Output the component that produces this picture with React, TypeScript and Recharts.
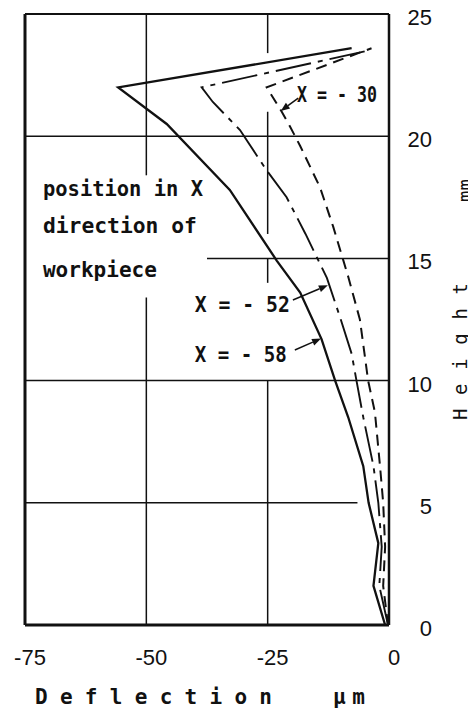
import React from "react";
import { ScatterChart, Scatter, XAxis, YAxis, ReferenceLine } from "recharts";

// heights (mm) and deflections (µm) along each curve, bottom to top
const HEIGHT_58 = [0, 1.6, 3.35, 5, 6.5, 8.5, 10, 11.7, 13.6, 14.9, 17.8, 20.5, 22.0, 23.6];
const DEFL_58 = [-0.8, -3.2, -2.2, -4.2, -5.3, -8.4, -11.1, -13.9, -18.3, -23.1, -32.8, -45.8, -55.8, -7.7];

const HEIGHT_52 = [0, 1.6, 3.2, 5, 6.5, 8.5, 10, 11.1, 12.6, 14.2, 16, 17.5, 18.6, 20.25, 21.4, 22.0, 23.5];
const DEFL_52 = [-0.2, -2.0, -1.5, -2.2, -3.2, -5.3, -6.7, -7.7, -10.1, -12.8, -17.2, -21.1, -25.2, -30.7, -36.3, -38.6, -4.3];

const HEIGHT_30 = [0, 1.6, 3.2, 5, 6.5, 8.7, 10, 12.5, 14.25, 16.3, 17.9, 19.6, 20.4, 21.0, 22.0, 23.6];
const DEFL_30 = [-0.2, -1.2, -0.8, -1.2, -1.85, -2.9, -4.3, -6.0, -8.4, -11.5, -14.2, -18.3, -20.4, -22.1, -25.2, -3.6];

const X_TICKS = [-75, -50, -25, 0];
const Y_TICKS = [0, 5, 10, 15, 20, 25];

// broken grid segments (the grid is left open around the notes)
const GRID_V = [
  { x: -50, from: 0, to: 13.4 },
  { x: -50, from: 18.4, to: 25 },
  { x: -25, from: 0, to: 10 },
  { x: -25, from: 14, to: 15 },
  { x: -25, from: 16, to: 21 },
  { x: -25, from: 23.4, to: 25 },
];
const GRID_H = [
  { y: 20, from: -75, to: 0 },
  { y: 15, from: -37.5, to: 0 },
  { y: 10, from: -75, to: 0 },
  { y: 5, from: -75, to: -6.5 },
];

const NOTES = [
  { text: "position in X", d: -71.3, h: 17.55, len: 160 },
  { text: "direction of", d: -71.3, h: 16.04, len: 154 },
  { text: "workpiece", d: -71.3, h: 14.24, len: 114 },
  { text: "X = - 30", d: -18.95, h: 21.4, len: 80 },
  { text: "X = - 52", d: -40.0, h: 12.8, len: 95 },
  { text: "X = - 58", d: -40.0, h: 10.76, len: 92 },
];

const ARROWS = [
  { from: { x: -18.7, y: 21.56 }, to: { x: -22.3, y: 21.03 } },
  { from: { x: -19.8, y: 13.3 }, to: { x: -12.6, y: 13.9 } },
  { from: { x: -19.4, y: 11.25 }, to: { x: -14.0, y: 11.72 } },
];

const toPoints = (hs: number[], ds: number[]) => hs.map((h, i) => ({ d: ds[i], h }));

const SERIES = [
  { key: "x58", data: toPoints(HEIGHT_58, DEFL_58), width: 2.3, dash: undefined },
  { key: "x52", data: toPoints(HEIGHT_52, DEFL_52), width: 1.9, dash: "36 7 5 7" },
  { key: "x30", data: toPoints(HEIGHT_30, DEFL_30), width: 2.0, dash: "11 7" },
];

const INK = "#111";
const MONO = "'DejaVu Sans Mono', monospace";
const SANS = "'Liberation Sans', Arial, sans-serif";

const XTick = (props: any) => (
  <text x={props.x + 5} y={props.y + 32} textAnchor="middle" fontFamily={SANS} fontSize={22} fill={INK}>
    {props.payload.value}
  </text>
);

const YTick = (props: any) => (
  <text x={props.x + 35} y={props.y + 11} textAnchor="end" fontFamily={SANS} fontSize={22} fill={INK}>
    {props.payload.value}
  </text>
);

const XTitle = () => (
  <g fill={INK} fontFamily={MONO} fontWeight="bold">
    <text x={35} y={704} fontSize={21} textLength={237} lengthAdjust="spacing">
      Deflection
    </text>
    <text x={333} y={704} fontSize={21} textLength={32} lengthAdjust="spacing">
      µm
    </text>
  </g>
);

const YTitle = () => (
  <g fill={INK} fontFamily={MONO}>
    <text x={467} y={420} fontSize={19} textLength={137} lengthAdjust="spacing" transform="rotate(-90 467 420)">
      Height
    </text>
    <text x={472} y={202} fontSize={19} transform="rotate(-90 472 202)">
      mm
    </text>
  </g>
);

const arrowShape = (p: any) => {
  const { x1, y1, x2, y2 } = p;
  const a = Math.atan2(y2 - y1, x2 - x1);
  const L = 9;
  const W = 3.5;
  const bx = x2 - L * Math.cos(a);
  const by = y2 - L * Math.sin(a);
  const nx = -Math.sin(a) * W;
  const ny = Math.cos(a) * W;
  return (
    <g>
      <line x1={x1} y1={y1} x2={bx} y2={by} stroke={INK} strokeWidth={1.5} />
      <polygon points={`${x2},${y2} ${bx + nx},${by + ny} ${bx - nx},${by - ny}`} fill={INK} />
    </g>
  );
};

export default function App() {
  return (
    <div style={{ margin: -8, background: "#fff" }}>
      <ScatterChart width={476} height={716} margin={{ top: 14, right: 0, bottom: 0, left: 25 }}>
        <XAxis
          type="number"
          dataKey="d"
          domain={[-75, 0]}
          ticks={X_TICKS}
          height={91}
          tickSize={6}
          tickMargin={2}
          tickLine={false}
          axisLine={false}
          tick={<XTick />}
          label={() => <XTitle />}
        />
        <YAxis
          type="number"
          dataKey="h"
          orientation="right"
          domain={[0, 25]}
          ticks={Y_TICKS}
          width={87}
          tickSize={6}
          tickMargin={2}
          tickLine={false}
          axisLine={false}
          tick={<YTick />}
          label={() => <YTitle />}
        />

        {GRID_V.map((g, i) => (
          <ReferenceLine
            key={`gv${i}`}
            segment={[{ x: g.x, y: g.from }, { x: g.x, y: g.to }]}
            stroke={INK}
            strokeWidth={1.5}
          />
        ))}
        {GRID_H.map((g, i) => (
          <ReferenceLine
            key={`gh${i}`}
            segment={[{ x: g.from, y: g.y }, { x: g.to, y: g.y }]}
            stroke={INK}
            strokeWidth={1.5}
          />
        ))}

        {/* frame */}
        <ReferenceLine x={-75} stroke={INK} strokeWidth={3} />
        <ReferenceLine x={0} stroke={INK} strokeWidth={2.5} />
        <ReferenceLine y={0} stroke={INK} strokeWidth={3} />
        <ReferenceLine y={25} stroke={INK} strokeWidth={2.2} />

        {SERIES.map((s) => (
          <Scatter
            key={s.key}
            data={s.data}
            stroke={INK}
            line={{ stroke: INK, strokeWidth: s.width, strokeDasharray: s.dash, strokeLinejoin: "miter" }}
            lineType="joint"
            shape={() => <g />}
            isAnimationActive={false}
          />
        ))}

        {NOTES.map((n, i) => (
          <ReferenceLine
            key={`n${i}`}
            segment={[{ x: n.d, y: n.h }, { x: n.d, y: n.h }]}
            ifOverflow="visible"
            shape={(p: any) => (
              <text
                x={p.x1}
                y={p.y1}
                fontFamily={MONO}
                fontSize={22}
                fontWeight="bold"
                fill={INK}
                textLength={n.len}
                lengthAdjust="spacingAndGlyphs"
              >
                {n.text}
              </text>
            )}
          />
        ))}

        {ARROWS.map((a, i) => (
          <ReferenceLine key={`a${i}`} segment={[a.from, a.to]} ifOverflow="visible" shape={arrowShape} />
        ))}
      </ScatterChart>
    </div>
  );
}
